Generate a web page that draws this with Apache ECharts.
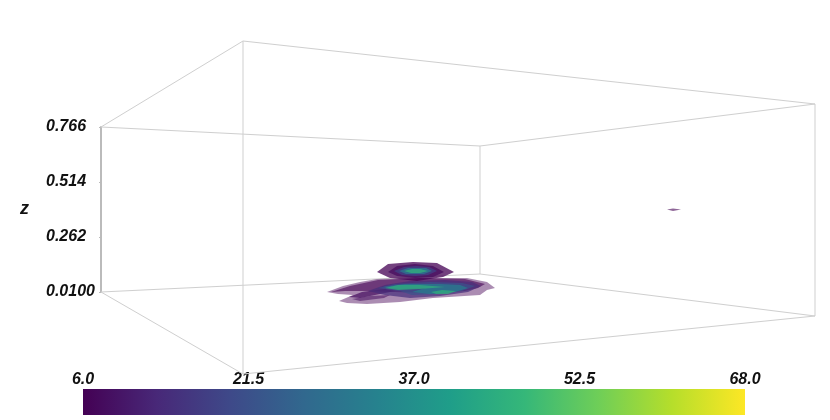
<!DOCTYPE html>
<html><head><meta charset="utf-8">
<style>html,body{margin:0;background:#fff}#c{width:830px;height:420px}</style>
<script src="https://cdn.jsdelivr.net/npm/echarts@6/dist/echarts.min.js"></script>
</head><body><div id="c"></div>
<script>
// Value range and ticks
const zTicks = [0.01, 0.262, 0.514, 0.766];
const colorTicks = [6, 21.5, 37, 52.5, 68];
const viridis = ['#440154','#482878','#3e4989','#31688e','#26828e','#1f9e89','#35b779','#6ece58','#b5de2b','#fde725'];

// Box edges and contour outlines, in the scene's units
const boxEdges = [
  [[243,41],[101,127]], [[243,41],[815,104]], [[101,127],[480,146]], [[480,146],[815,104]],
  [[480,146],[480,274]], [[101,292],[480,274]], [[101,292],[243,374]], [[243,374],[815,316]],
  [[480,274],[815,316]], [[815,104],[815,316]], [[243,41],[243,374]]
];
const contourLevels = [6, 6, 8, 14, 22, 33, 46, 6, 8, 18, 30, 46, 8, 6];
const contourOpacity = [0.45, 0.6, 0.7, 0.7, 0.7, 0.7, 0.7, 0.75, 0.75, 0.8, 0.8, 0.75, 0.55, 0.6];
const contours = [
  // lower body: outer lilac rim
  [[327,292],[343,286],[360,282],[377,279],[420,278],[467,278],[487,282],[495,288],[487,290],[480,295],[433,298],[400,302],[367,304],[347,303],[339,301],[353,295],[338,294]],
  // lower body: purple upper shell
  [[331,292],[350,286],[378,280],[420,278],[465,279],[485,284],[478,288],[465,291],[430,293],[395,292],[362,291],[345,291]],
  // dark finger
  [[349,297],[362,292],[385,289],[395,291],[375,295],[360,298]],
  // slate
  [[368,291],[385,285],[410,281],[445,280],[472,282],[481,286],[468,292],[440,296],[410,298],[385,295]],
  // blue-teal
  [[378,288],[395,284],[430,282],[462,283],[475,286],[462,291],[438,294],[412,295],[400,291]],
  // teal
  [[383,287],[405,284],[440,284],[460,285],[468,288],[455,292],[430,294],[412,292],[425,288],[400,289]],
  // green crests
  [[385,288],[398,285],[420,285],[445,287],[420,289],[398,290]],
  // upper body: purple shell
  [[377,272],[388,264],[413,262],[437,263],[454,272],[443,277],[417,281],[390,278]],
  // upper body: slate
  [[388,272],[397,266],[415,264],[433,266],[444,272],[433,277],[415,278],[397,276]],
  // upper body: teal
  [[394,271],[404,267],[416,266],[429,267],[437,271],[428,275],[415,276],[402,275]],
  // upper body: blue-green
  [[399,271],[408,268],[416,268],[426,268],[432,271],[424,274],[415,274],[406,274]],
  // upper body: green crest
  [[404,271],[412,269],[420,269],[428,271],[420,273],[411,273]],
  // far pale sliver at the lower edge
  [[352,299],[370,296],[390,295],[384,298],[360,301]],
  // isolated small cap
  [[667,209.5],[673,208.6],[681,209.5],[673,211]]
];
const lowerGreen = [[431,292],[442,290],[456,291],[448,294],[436,294]];
const lowerGreenLevel = 46;

function cmap(v){
  const t = (v - colorTicks[0]) / (colorTicks[4] - colorTicks[0]);
  return echarts.color.lerp(Math.min(1, Math.max(0, t)), viridis);
}
function polygon(points, api, fill, opacity){
  return {type:'polygon', shape:{points: points.map(p=>api.coord(p))},
          style:{fill:fill, opacity:opacity, stroke:null}, silent:true};
}
const labelFont = {fontFamily:'Liberation Sans', fontWeight:'bold', fontStyle:'italic', fontSize:16, color:'#111'};

const option = {
  animation:false, backgroundColor:'#fff',
  grid:[
    {left:0, top:0, width:830, height:420},
    {left:101, top:127, width:1, height:165},
    {left:83, top:389, width:662, height:26}
  ],
  xAxis:[
    {gridIndex:0, type:'value', min:0, max:830, show:false},
    {gridIndex:1, type:'value', min:0, max:1, show:false},
    {gridIndex:2, type:'value', min:colorTicks[0], max:colorTicks[4], position:'top',
     axisLine:{show:false}, axisTick:{show:false}, splitLine:{show:false},
     axisLabel:Object.assign({customValues:colorTicks, margin:1, hideOverlap:false, showMinLabel:true, showMaxLabel:true,
       formatter:v=>v.toFixed(1)}, labelFont)}
  ],
  yAxis:[
    {gridIndex:0, type:'value', min:0, max:420, inverse:true, show:false},
    {gridIndex:1, type:'value', min:zTicks[0], max:zTicks[3], name:'z', nameLocation:'middle', nameRotate:0, nameGap:72,
     nameTextStyle:Object.assign({}, labelFont, {fontSize:18}),
     axisLine:{show:true, lineStyle:{color:'#bbb', width:2}},
     axisTick:{show:true, customValues:zTicks, length:2, lineStyle:{color:'#bbb'}},
     splitLine:{show:false},
     axisLabel:Object.assign({customValues:zTicks, margin:55, align:'left', hideOverlap:false,
       formatter:v=>v===zTicks[0]?v.toFixed(4):v.toFixed(3)}, labelFont)},
    {gridIndex:2, type:'value', min:0, max:1, show:false}
  ],
  series:[
    {type:'custom', xAxisIndex:0, yAxisIndex:0, silent:true, clip:false, data:boxEdges.map((e,i)=>[i]),
     renderItem:(p,api)=>{
       const e = boxEdges[api.value(0)];
       const a = api.coord(e[0]), b = api.coord(e[1]);
       return {type:'line', shape:{x1:a[0],y1:a[1],x2:b[0],y2:b[1]}, style:{stroke:'#cfcfcf', lineWidth:1}, silent:true};
     }},
    {type:'custom', xAxisIndex:0, yAxisIndex:0, silent:true, clip:false, data:contours.map((c,i)=>[i]),
     renderItem:(p,api)=>{
       const i = api.value(0);
       return polygon(contours[i], api, cmap(contourLevels[i]), contourOpacity[i]);
     }},
    {type:'custom', xAxisIndex:0, yAxisIndex:0, silent:true, clip:false, data:[[0]],
     renderItem:(p,api)=>polygon(lowerGreen, api, cmap(lowerGreenLevel), 0.7)},
    {type:'custom', xAxisIndex:2, yAxisIndex:2, silent:true, data:[[colorTicks[0],colorTicks[4]]],
     renderItem:(p,api)=>{
       const a = api.coord([api.value(0),1]), b = api.coord([api.value(1),0]);
       return {type:'rect', shape:{x:a[0],y:a[1],width:b[0]-a[0],height:b[1]-a[1]},
         style:{fill:new echarts.graphic.LinearGradient(0,0,1,0,
           viridis.map((c,i)=>({offset:i/(viridis.length-1),color:c})))}, silent:true};
     }}
  ]
};
echarts.init(document.getElementById('c'),null,{renderer:'canvas'}).setOption(option);
</script></body></html>
